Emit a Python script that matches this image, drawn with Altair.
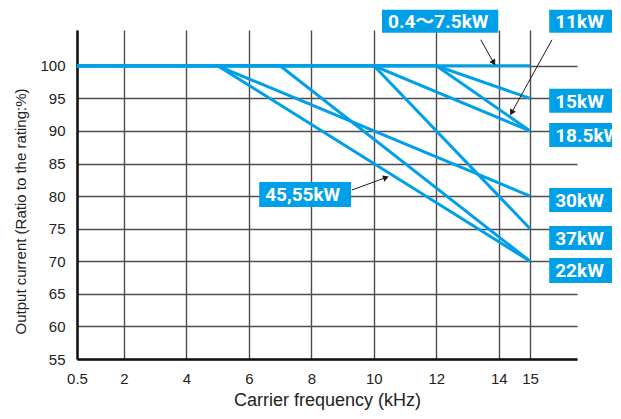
import altair as alt
import pandas as pd

# ---- data -------------------------------------------------------------
series = ["0.4～7.5kW", "11kW", "15kW", "18.5kW", "22kW", "30kW", "37kW", "45,55kW"]
freq_points = [
    [0.5, 15],
    [0.5, 12, 15],
    [0.5, 12, 15],
    [0.5, 10, 15],
    [0.5, 7, 15],
    [0.5, 5, 15],
    [0.5, 10, 15],
    [0.5, 5, 15],
]
current_points = [
    [100, 100],
    [100, 100, 90],
    [100, 100, 95],
    [100, 100, 90],
    [100, 100, 70],
    [100, 100, 80],
    [100, 100, 75],
    [100, 100, 70],
]

x_ticks = [0.5, 2, 4, 6, 8, 10, 12, 14, 15]
y_ticks = [55, 60, 65, 70, 75, 80, 85, 90, 95, 100]

# label boxes (data coordinates)
label_text = ["0.4～7.5kW", "11kW", "15kW", "18.5kW", "30kW", "37kW", "22kW", "45,55kW"]
label_x0 = [10.26, 15.61, 15.61, 15.61, 15.61, 15.61, 15.61, 6.33]
label_x1 = [13.98, 18.2, 18.2, 18.2, 18.2, 18.2, 18.2, 9.27]
label_y0 = [108.6, 108.6, 96.47, 91.24, 81.26, 75.42, 70.51, 82.18]
label_y1 = [105.07, 105.07, 92.78, 87.56, 77.57, 71.74, 66.67, 78.34]

# arrows (start -> tip, data coordinates)
arrow_x0 = [13.42, 15.70, 9.30]
arrow_y0 = [104.0, 104.0, 80.95]
arrow_x1 = [13.82, 14.42, 10.36]
arrow_y1 = [100.6, 92.93, 82.8]
arrow_angle = [149, 208, 70]

# ---- tables -----------------------------------------------------------
rows = []
for s, xs, ys in zip(series, freq_points, current_points):
    for i, (xv, yv) in enumerate(zip(xs, ys)):
        rows.append({"series": s, "order": i, "freq": xv, "current": yv})
lines_df = pd.DataFrame(rows)

labels_df = pd.DataFrame({
    "text": label_text, "x0": label_x0, "x1": label_x1,
    "y0": label_y0, "y1": label_y1,
})
labels_df["ym"] = (labels_df["y0"] + labels_df["y1"]) / 2

arrows_df = pd.DataFrame({
    "x0": arrow_x0, "y0": arrow_y0, "x1": arrow_x1, "y1": arrow_y1,
    "angle": arrow_angle,
})

BLUE = "#00a0e9"
xscale = alt.Scale(domain=[0.5, 16.5], nice=False, zero=False)
yscale = alt.Scale(domain=[55, 105.5], nice=False, zero=False)

xaxis = alt.Axis(values=x_ticks, title="Carrier frequency (kHz)",
                 labelFlush=False, labelOverlap=False,
                 labelExpr="datum.value == 0.5 ? '0.5' : datum.value")
yaxis = alt.Axis(values=y_ticks, title="Output current (Ratio to the rating:%)",
                 labelOverlap=False, labelFlush=False)


def ax(field):
    return alt.X(field, scale=xscale, axis=xaxis)


def ay(field):
    return alt.Y(field, scale=yscale, axis=yaxis)


lines = alt.Chart(lines_df).mark_line(color=BLUE, strokeWidth=3).encode(
    x=ax("freq:Q"),
    y=ay("current:Q"),
    detail="series:N",
    order="order:Q",
)

boxes = alt.Chart(labels_df).mark_rect(color=BLUE).encode(
    x=ax("x0:Q"), x2="x1:Q",
    y=ay("y0:Q"), y2="y1:Q",
)

texts = alt.Chart(labels_df).mark_text(
    align="left", baseline="middle", dx=6, dy=1, color="white",
    font="Roboto, 'Noto Sans CJK JP', sans-serif", fontWeight="bold", fontSize=19,
).encode(
    x=ax("x0:Q"),
    y=ay("ym:Q"),
    text="text:N",
)

arrow_lines = alt.Chart(arrows_df).mark_rule(color="#231815", strokeWidth=1).encode(
    x=ax("x0:Q"), x2="x1:Q",
    y=ay("y0:Q"), y2="y1:Q",
)

arrow_heads = alt.Chart(arrows_df).mark_point(
    shape="triangle", filled=True, color="#231815", size=45, opacity=1,
).encode(
    x=ax("x1:Q"),
    y=ay("y1:Q"),
    angle=alt.Angle("angle:Q", scale=None),
)

chart = alt.layer(lines, boxes, texts, arrow_lines, arrow_heads).properties(
    width=500, height=329,
    autosize=alt.AutoSizeParams(type="none"),
    padding={"left": 69, "top": 22, "right": 35, "bottom": 52},
).configure_view(stroke=None).configure_axis(
    grid=True, gridColor="#4d4d4d", gridWidth=1.4,
    domainColor="#111111", domainWidth=2.5,
    ticks=False,
    labelFont="Liberation Sans", labelFontSize=15, labelColor="#222222",
    titleFont="Liberation Sans", titleFontWeight="normal",
    titleColor="#222222",
).configure_axisX(
    labelPadding=12, titlePadding=5, titleFontSize=18,
).configure_axisY(
    labelPadding=12, titleFontSize=15,
    titleX=-57, titleY=181, titleAngle=270,
    titleAlign="center", titleBaseline="middle",
)

chart.save("out.html", embed_options={"renderer": "svg", "actions": False})
